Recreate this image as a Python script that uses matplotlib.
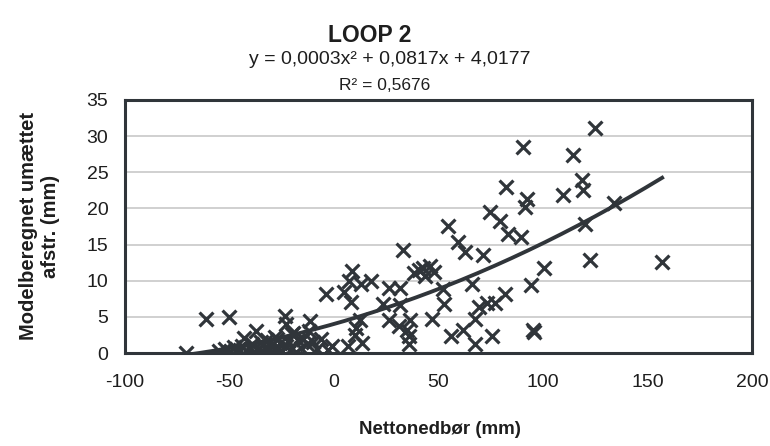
import numpy as np
import matplotlib
matplotlib.use('Agg')
import matplotlib.pyplot as plt

# --- Data ---
netto = [
    # upper / right part
    125.0, 90.4, 114.5, 118.7, 119.0, 82.3, 109.6, 92.4, 91.4, 134.0,
    74.7, 79.2, 120.0, 54.4, 83.4, 89.4, 59.5, 62.5, 71.3, 33.0,
    122.5, 157.0, 100.5, 94.4, 65.8,
    38.5, 42.7, 45.8, 47.8, 43.7, 40.7,
    52.2, 26.5, 31.5,
    8.5, 7.0, 5.0, 17.5, 13.0, -4.0, 8.0,
    23.5, 31.8, 52.6, 69.4, 73.2, 77.0, 81.8,
    12.5, 10.5, 26.5, 31.0, 36.5, 35.7, 35.7, 35.0, 47.0, 56.0,
    61.8, 67.4, 67.4, 75.4, 95.3, 95.7,
    -1.0, 6.8, 13.5, 10.0,
    # left part
    -23.5, -23.0, -11.5, -61.2, -50.4, -70.8, -37.5, -43.1, -27.3, -19.4, -14.7,
    # dense cluster near zero
    -55.0, -52.0, -50.0, -48.0, -47.0, -45.0, -44.0, -42.0, -40.0, -39.0,
    -38.0, -36.0, -35.0, -34.0, -33.0, -32.0, -31.0, -30.0, -29.0, -28.0,
    -27.0, -26.0, -25.0, -23.0, -22.0, -21.0, -20.0, -18.0, -17.0, -16.0,
    -15.0, -13.0, -12.0, -10.0, -8.0, -6.0, -3.0,
]
afstr = [
    31.1, 28.5, 27.4, 24.0, 22.5, 23.0, 21.8, 21.3, 20.2, 20.7,
    19.5, 18.3, 17.9, 17.6, 16.4, 16.1, 15.4, 14.0, 13.5, 14.2,
    12.9, 12.6, 11.7, 9.4, 9.6,
    11.0, 11.8, 12.0, 11.2, 10.6, 11.5,
    8.9, 9.0, 9.0,
    11.4, 10.0, 8.5, 10.0, 9.6, 8.2, 7.1,
    6.8, 6.6, 6.8, 6.4, 6.9, 6.9, 8.2,
    4.5, 3.4, 4.6, 3.8, 4.6, 2.3, 1.2, 3.2, 4.7, 2.4,
    3.2, 4.7, 1.2, 2.3, 3.2, 2.9,
    1.0, 1.0, 1.4, 2.5,
    5.1, 4.0, 4.4, 4.7, 5.0, 0.0, 3.0, 2.1, 2.0, 2.7, 2.0,
    0.3, 0.5, 0.2, 0.8, 0.1, 0.4, 1.0, 0.3, 0.6, 1.2,
    0.1, 0.5, 1.5, 0.2, 0.8, 1.8, 0.4, 1.0, 0.2, 2.2,
    0.6, 1.4, 0.3, 0.9, 1.6, 0.4, 2.6, 0.2, 1.8, 0.7,
    2.0, 1.2, 3.0, 1.5, 0.5, 2.0, 0.4,
]

# trendline coefficients as printed on the chart
coef = [0.0003, 0.0817, 4.0177]
title = 'LOOP 2'
eq_text = 'y = 0,0003x² + 0,0817x + 4,0177'
r2_text = 'R² = 0,5676'

x_ticks = [-100, -50, 0, 50, 100, 150, 200]
y_ticks = [0, 5, 10, 15, 20, 25, 30, 35]

dark = '#30353a'
txt = '#1e1e1e'

plt.rcParams['font.family'] = ['Liberation Sans', 'DejaVu Sans']
plt.rcParams['axes.unicode_minus'] = False

fig = plt.figure(figsize=(7.7, 4.46), dpi=100)
ax = fig.add_axes([125 / 770, 1 - 353 / 446, (752 - 125) / 770, (353 - 100) / 446])

ax.scatter(netto, afstr, marker='x', s=100, color=dark, linewidths=2.3, zorder=3)

xs = np.linspace(min(netto), max(netto), 200)
ax.plot(xs, np.polyval(coef, xs), color=dark, linewidth=2.8, zorder=4)

ax.set_xlim(-100, 200)
ax.set_ylim(0, 35)
ax.set_xticks(x_ticks)
ax.set_yticks(y_ticks)
ax.tick_params(length=0, labelsize=14, colors=txt)
ax.tick_params(axis='x', pad=15)
ax.tick_params(axis='y', pad=12)
ax.yaxis.grid(True, color='#d0d0d0', linewidth=1.4)
ax.set_axisbelow(True)
for sp in ax.spines.values():
    sp.set_color(dark)
    sp.set_linewidth(2.2)

fig.text(370 / 770, 1 - 35 / 446, title, ha='center', va='center',
         fontsize=16.5, fontweight='bold', color=txt)
fig.text(390 / 770, 1 - 60 / 446, eq_text, ha='center', va='center',
         fontsize=14, color=txt)
fig.text(385 / 770, 1 - 86 / 446, r2_text, ha='center', va='center',
         fontsize=12.5, color=txt)

fig.text(440 / 770, 1 - 430 / 446, 'Nettonedbør (mm)', ha='center', va='center',
         fontsize=13.5, fontweight='bold', color=txt)
fig.text(40 / 770, 1 - 226 / 446, 'Modelberegnet umættet\nafstr. (mm)',
         ha='center', va='center', rotation=90, multialignment='center',
         fontsize=14.5, fontweight='bold', color=txt, linespacing=1.2)

fig.savefig('out.png', dpi=100)
